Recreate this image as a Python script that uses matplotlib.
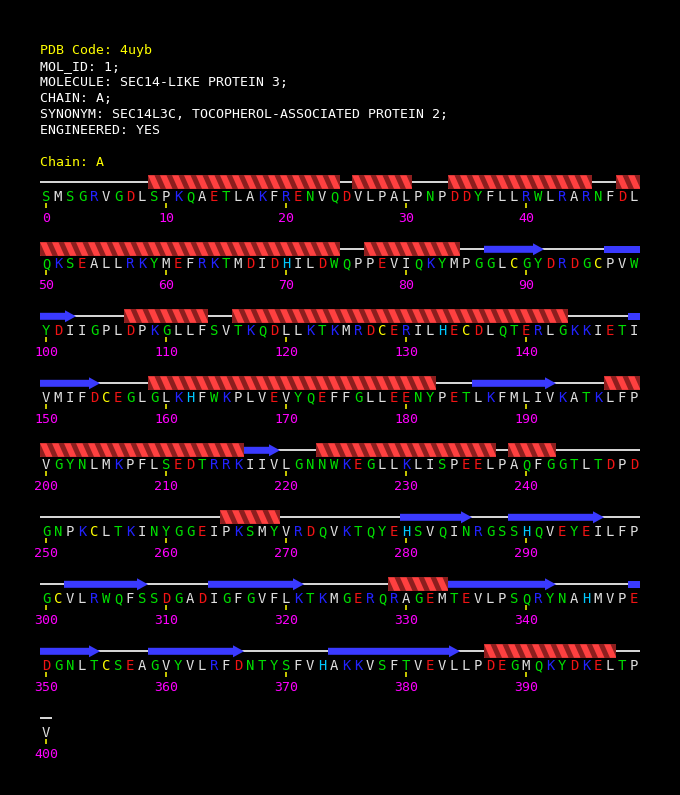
import matplotlib
matplotlib.use("Agg")
import matplotlib.pyplot as plt
from matplotlib.patches import Polygon, Rectangle

# en-tete PDB
pdb_code = "4uyb"
header = ["MOL_ID: 1;",
          "MOLECULE: SEC14-LIKE PROTEIN 3;",
          "CHAIN: A;",
          "SYNONYM: SEC14L3C, TOCOPHEROL-ASSOCIATED PROTEIN 2;",
          "ENGINEERED: YES"]
chain = "A"

# sequence, 50 residus par ligne
seq_rows = ["SMSGRVGDLSPKQAETLAKFRENVQDVLPALPNPDDYFLLRWLRARNFDL",
            "QKSEALLRKYMEFRKTMDIDHILDWQPPEVIQKYMPGGLCGYDRDGCPVW",
            "YDIIGPLDPKGLLFSVTKQDLLKTKMRDCERILHECDLQTERLGKKIETI",
            "VMIFDCEGLGLKHFWKPLVEVYQEFFGLLEENYPETLKFMLIVKATKLFP",
            "VGYNLMKPFLSEDTRRKIIVLGNNWKEGLLKLISPEELPAQFGGTLTDPD",
            "GNPKCLTKINYGGEIPKSMYVRDQVKTQYEHSVQINRGSSHQVEYEILFP",
            "GCVLRWQFSSDGADIGFGVFLKTKMGERQRAGEMTEVLPSQRYNAHMVPE",
            "DGNLTCSEAGVYVLRFDNTYSFVHAKKVSFTVEVLLPDEGMQKYDKELTP",
            "V"]

# structure secondaire (debut, fin) inclus
helices = [(9, 24), (26, 30), (34, 45), (48, 74), (77, 84), (107, 113),
           (116, 143), (159, 182), (197, 216), (223, 237), (239, 242),
           (265, 269), (329, 333), (387, 397)]
strands = [(87, 91), (97, 102), (149, 154), (186, 192), (217, 219),
           (280, 285), (289, 296), (302, 308), (314, 321), (334, 342),
           (349, 354), (359, 366), (374, 384)]

couleurs = {}
for aa in "DE":
    couleurs[aa] = "#f01414"
for aa in "KR":
    couleurs[aa] = "#2222ff"
for aa in "STNQGYW":
    couleurs[aa] = "#00e000"
for aa in "AVLIMPF":
    couleurs[aa] = "#e0e0e0"
couleurs["C"] = "#ffff00"
couleurs["H"] = "#00c8ff"

police = "DejaVu Sans Mono"
taille = 9.5
taille_aa = 10
x0 = 40       # bord gauche du premier residu
dx = 12       # largeur d'un residu
y_ligne = 182.3
dy = 67       # espacement des lignes
par_ligne = 50

fig = plt.figure(figsize=(6.8, 7.95), dpi=100, facecolor="black")
ax = fig.add_axes([0, 0, 1, 1])
ax.set_facecolor("black")
ax.set_xlim(0, 680)
ax.set_ylim(795, 0)
ax.axis("off")

# en-tete
ax.text(40, 54, "PDB Code: " + pdb_code, color="#ffff00", family=police,
        fontsize=taille, va="baseline")
for k, ligne in enumerate(header):
    ax.text(40, 70 + 16 * k, ligne, color="white", family=police,
            fontsize=taille, va="baseline")
ax.text(40, 166, "Chain: " + chain, color="#ffff00", family=police,
        fontsize=taille, va="baseline")


def segments(debut, fin):
    # coupe un element aux fins de ligne
    res = []
    i = debut
    while i <= fin:
        r = i // par_ligne
        j = min(fin, (r + 1) * par_ligne - 1)
        res.append((r, i % par_ligne, j % par_ligne, j == fin))
        i = j + 1
    return res


# lignes de coil
for r, s in enumerate(seq_rows):
    y = y_ligne + r * dy
    ax.plot([x0, x0 + dx * len(s)], [y, y], color="white", lw=1.2,
            solid_capstyle="butt", zorder=1)

# helices
for debut, fin in helices:
    for r, c1, c2, _ in segments(debut, fin):
        y = y_ligne + r * dy
        xa = x0 + dx * c1
        xb = x0 + dx * (c2 + 1)
        haut, bas = y - 7, y + 6.5
        fond = Rectangle((xa, haut), xb - xa, bas - haut, color="#8c1e1e",
                         lw=0, zorder=2)
        ax.add_patch(fond)
        for c in range(c1 - 1, c2 + 1):
            xs = x0 + dx * c
            p = Polygon([(xs, haut), (xs + 6.5, haut), (xs + 12.5, bas),
                         (xs + 6, bas)], closed=True, color="#ff4040", lw=0,
                        zorder=3)
            ax.add_patch(p)
            p.set_clip_path(fond)

# brins
for debut, fin in strands:
    for r, c1, c2, bout in segments(debut, fin):
        y = y_ligne + r * dy
        xa = x0 + dx * c1
        xb = x0 + dx * (c2 + 1)
        if bout:
            xt = xb - 11
            pts = [(xa, y - 3.5), (xt, y - 3.5), (xt, y - 6), (xb, y),
                   (xt, y + 6), (xt, y + 3.5), (xa, y + 3.5)]
        else:
            pts = [(xa, y - 3.5), (xb, y - 3.5), (xb, y + 3.5), (xa, y + 3.5)]
        ax.add_patch(Polygon(pts, closed=True, color="#3a3aff", lw=0,
                             zorder=3))

# lettres, graduations et numeros
for r, s in enumerate(seq_rows):
    yb = 201 + r * dy
    for c, aa in enumerate(s):
        xc = x0 + dx * c + dx / 2
        ax.text(xc, yb, aa, color=couleurs[aa], family=police,
                fontsize=taille_aa, ha="center", va="baseline", zorder=4)
        num = r * par_ligne + c
        if num % 10 == 0:
            ax.plot([xc, xc], [203 + r * dy, 208 + r * dy], color="#ffff00",
                    lw=1.1, solid_capstyle="butt")
            ax.text(xc, 222 + r * dy, str(num), color="#ff00ff",
                    family=police, fontsize=taille, ha="center",
                    va="baseline")

fig.savefig("out.png", dpi=100, facecolor="black")
